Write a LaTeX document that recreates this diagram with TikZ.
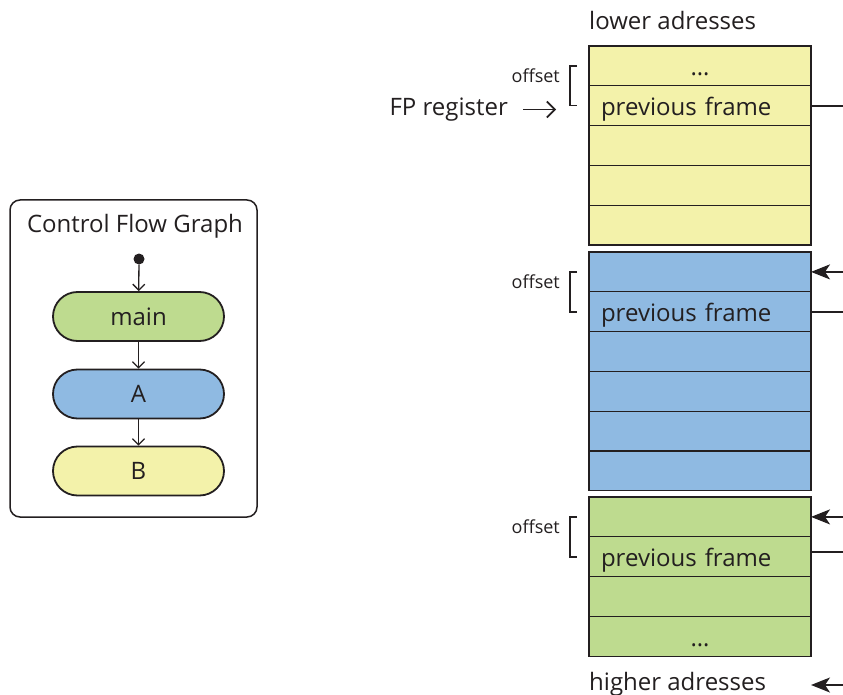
\documentclass[tikz,border=0pt]{standalone}
\usepackage{fontspec}
\setmainfont{Open Sans}
\usetikzlibrary{arrows.meta}

\definecolor{cfgreen}{RGB}{190,219,143}
\definecolor{cfblue}{RGB}{143,186,226}
\definecolor{cfyellow}{RGB}{243,242,170}
\definecolor{ink}{RGB}{35,31,32}

\begin{document}
\begin{tikzpicture}[x=1pt,y=-1pt,
  every node/.style={text=ink},
  bigtext/.style={font=\fontsize{24}{28}\selectfont},
  smalltext/.style={font=\fontsize{18}{20}\selectfont},
  cell/.style={draw=ink, line width=1.3pt, anchor=north west,
    minimum width=222pt, minimum height=39.8pt, text width=198pt,
    text height=20pt, text depth=0pt,
    inner xsep=12pt, inner ysep=0pt, outer sep=0pt, align=left, bigtext},
  dotcell/.style={cell, align=center},
  bracket/.style={draw=ink, line width=1.6pt},
  link/.style={draw=ink, line width=1.8pt},
  backlink/.style={link, -{Stealth[length=19pt, width=15pt, inset=5pt]}},
  fparrow/.style={draw=ink, line width=1.7pt, -{Straight Barb[length=8pt, width=16pt]}},
  flow/.style={draw=ink, line width=1.3pt, -{Straight Barb[length=6pt, width=12pt]}},
  block/.style={draw=ink, line width=1.8pt, rounded corners=24.5pt,
    minimum width=171pt, minimum height=49pt, inner sep=0pt, bigtext},
]
\useasboundingbox (0,0) rectangle (843,695);

% ---------------- control flow graph ----------------
\node[draw=ink, line width=1.5pt, rounded corners=10pt,
      minimum width=247pt, minimum height=317pt] (cfg) at (133.5,358.5) {};
\node[bigtext, anchor=base] (cfgtitle) at (135,233) {Control Flow Graph};
\node[circle, fill=ink, inner sep=0pt, minimum size=11pt] (start) at (139,259) {};
\node[block, fill=cfgreen] (main) at (138.5,316.5) {main};
\node[block, fill=cfblue] (A) at (138.5,394) {A};
\node[block, fill=cfyellow] (B) at (138.5,471) {B};
\draw[flow] (start) -- (main);
\draw[flow] (main) -- (A);
\draw[flow] (A) -- (B);

% ---------------- stack frames ----------------
\node[bigtext, anchor=base west, inner xsep=0pt] (lower) at (589,30) {lower adresses};

% frame of B (yellow)
\node[dotcell, fill=cfyellow] (y0) at (589,46) {\dots};
\node[cell, fill=cfyellow] (y1) at (589,85.8) {previous frame};
\node[cell, fill=cfyellow] (y2) at (589,125.6) {};
\node[cell, fill=cfyellow] (y3) at (589,165.4) {};
\node[cell, fill=cfyellow] (y4) at (589,205.2) {};

% frame of A (blue)
\node[cell, fill=cfblue] (b0) at (589,252) {};
\node[cell, fill=cfblue] (b1) at (589,291.8) {previous frame};
\node[cell, fill=cfblue] (b2) at (589,331.6) {};
\node[cell, fill=cfblue] (b3) at (589,371.4) {};
\node[cell, fill=cfblue] (b4) at (589,411.2) {};
\node[cell, fill=cfblue] (b5) at (589,451) {};

% frame of main (green)
\node[cell, fill=cfgreen] (g0) at (589,497) {};
\node[cell, fill=cfgreen] (g1) at (589,536.8) {previous frame};
\node[cell, fill=cfgreen] (g2) at (589,576.6) {};
\node[dotcell, fill=cfgreen] (g3) at (589,616.4) {\dots};

\node[bigtext, anchor=base west, inner xsep=0pt] (higher) at (589,690) {higher adresses};

% offset brackets
\foreach \top/\prev in {y0/y1, b0/b1, g0/g1} {
  \draw[bracket] ([xshift=-12pt]\top.west) -- ([xshift=-19pt]\top.west)
                 -- ([xshift=-19pt]\prev.west) -- ([xshift=-12pt]\prev.west);
  \node[smalltext, anchor=base east, inner xsep=0pt] at ([xshift=-29pt, yshift=-17pt]\top.west) {offset};
}

% frame pointer
\node[bigtext, anchor=east, inner xsep=0pt] (fp) at (508,109.5) {FP register};
\draw[fparrow] ([xshift=15pt]fp.east) -- ([xshift=48pt]fp.east);

% saved frame links leaving through the right edge
\coordinate (ey1) at (843,105.7);
\coordinate (eb0) at (843,271.9);
\coordinate (eb1) at (843,311.7);
\coordinate (eg0) at (843,516.9);
\coordinate (eg1) at (843,551.7);
\coordinate (eh)  at (843,685);
\draw[link] (y1.east) -- (ey1);
\draw[backlink] (eb0) -- (b0.east);
\draw[link] (b1.east) -- (eb1);
\draw[backlink] (eg0) -- (g0.east);
\draw[link] (eg1 -| g1.east) -- (eg1);
\draw[backlink] (eh) -- (eh -| g3.east);
\end{tikzpicture}
\end{document}
